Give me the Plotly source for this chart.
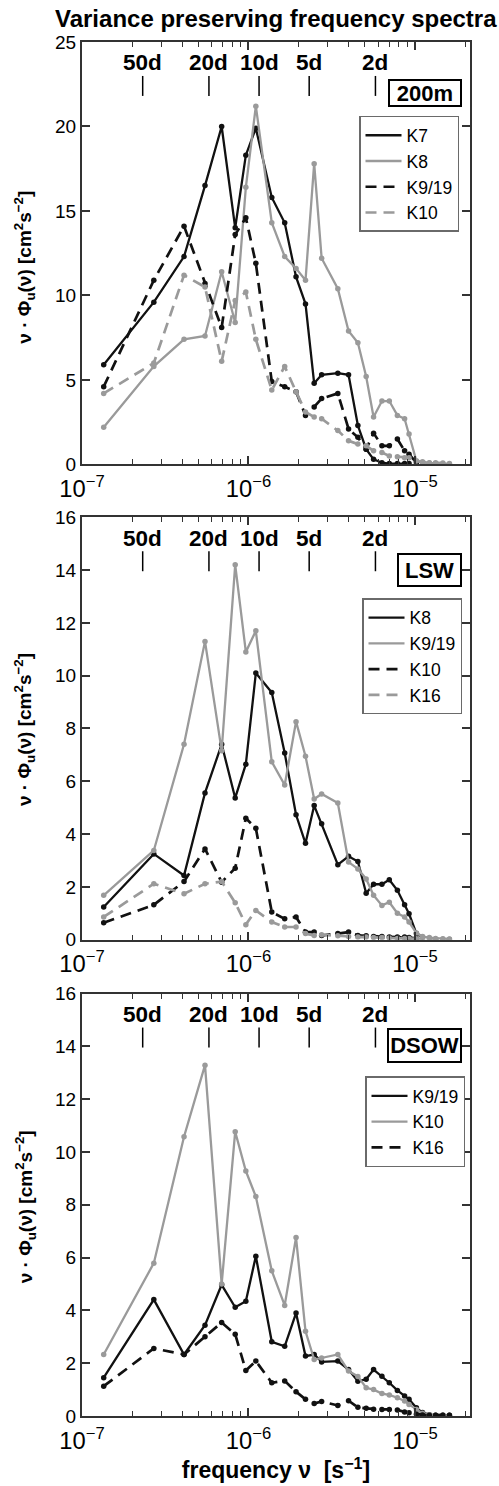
import numpy as np
import plotly.graph_objects as go

# ---------------- data ----------------
FREQ = [1.35e-7, 2.70e-7, 4.10e-7, 5.48e-7, 6.90e-7, 8.32e-7, 9.64e-7, 1.107e-6,
        1.38e-6, 1.65e-6, 1.93e-6, 2.20e-6, 2.48e-6, 2.75e-6, 3.44e-6, 3.99e-6,
        4.54e-6, 5.09e-6, 5.64e-6, 6.33e-6, 7.01e-6, 7.84e-6, 8.66e-6, 9.21e-6,
        1.02e-5, 1.11e-5, 1.22e-5, 1.33e-5, 1.47e-5, 1.61e-5]

PERIOD_DAYS = [50, 20, 10, 5, 2]
PERIOD_LABELS = ["50d", "20d", "10d", "5d", "2d"]

# 200 m
K7_200 = [5.9, 9.6, 12.3, 16.5, 20.0, 14.0, 18.3, 19.9, 15.8, 14.3, 11.1, 9.5, 4.8, 5.3,
          5.4, 5.3, 2.3, 0.9, 0.3, 0.1, 0.05, 0.05, 0.05, 0.05]
K8_200 = [2.2, 5.8, 7.4, 7.6, 11.4, 8.4, 16.4, 21.2, 14.3, 12.3, 11.6, 10.9, 17.8, 12.2,
          10.4, 7.9, 7.2, 5.2, 2.8, 3.75, 3.75, 2.9, 2.7, 1.8, 0.2, 0.1, 0.08, 0.05, 0.04, 0.03]
K9_200 = [4.6, 10.9, 14.1, 10.7, 8.1, 13.6, 14.6, 11.9, 4.9, 4.6, 4.3, 2.9, 3.4, 3.9,
          4.2, 2.1, 1.6, 0.9, 1.85, 1.1, 1.1, 1.5, 0.8, 0.6, 0.1]
K10_200 = [4.2, 6.0, 11.2, 10.5, 6.1, 9.7, 10.2, 7.4, 4.4, 5.8, 4.3, 3.1, 2.8, 2.7,
           2.0, 1.4, 1.2, 1.1, 0.8, 0.7, 0.5, 0.45, 0.4, 0.4, 0.2, 0.15, 0.1, 0.1, 0.08, 0.05]

# LSW
K8_LSW = [1.24, 3.25, 2.43, 5.56, 7.4, 5.37, 6.65, 10.1, 9.36, 7.07, 4.73, 3.65, 5.08, 4.39,
          2.84, 3.16, 2.96, 1.76, 2.1, 2.1, 2.27, 1.87, 1.32, 0.98, 0.23, 0.1]
K9_LSW = [1.68, 3.38, 7.4, 11.3, 7.16, 14.2, 10.9, 11.7, 6.74, 5.86, 8.26, 6.95, 5.33, 5.52,
          5.18, 2.94, 2.68, 2.3, 1.68, 1.3, 1.42, 1.0, 0.86, 0.67, 0.25, 0.12, 0.08, 0.05, 0.04, 0.03]
K10_LSW = [0.64, 1.32, 2.2, 3.44, 2.18, 2.71, 4.6, 4.22, 1.05, 0.79, 0.86, 0.29, 0.29, 0.16,
           0.23, 0.29, 0.16, 0.15, 0.12, 0.12, 0.1, 0.1, 0.1, 0.08, 0.05]
K16_LSW = [0.86, 2.12, 1.74, 2.12, 2.2, 1.4, 0.57, 1.11, 0.67, 0.48, 0.48, 0.23, 0.16, 0.19,
           0.15, 0.12, 0.1, 0.1, 0.08, 0.08, 0.06, 0.05, 0.05, 0.05, 0.04, 0.03, 0.03, 0.02, 0.02, 0.02]

# DSOW
K9_DSOW = [1.45, 4.41, 2.33, 3.44, 4.97, 4.12, 4.35, 6.05, 2.81, 2.64, 3.9, 2.27, 2.33, 2.05,
           2.08, 1.76, 1.32, 1.39, 1.76, 1.51, 1.26, 0.97, 0.76, 0.63, 0.31, 0.13, 0.05, 0.03, 0.03, 0.03]
K10_DSOW = [2.33, 5.79, 10.58, 13.29, 5.0, 10.77, 9.28, 8.31, 5.5, 4.19, 6.76, 3.21, 2.14, 2.2,
            2.33, 1.7, 1.5, 1.07, 1.0, 0.85, 0.8, 0.69, 0.57, 0.44, 0.25, 0.1, 0.05, 0.03, 0.03, 0.02]
K16_DSOW = [1.13, 2.56, 2.33, 3.0, 3.54, 3.1, 1.72, 2.08, 1.26, 1.33, 0.92, 0.63, 0.47, 0.55,
            0.4, 0.58, 0.33, 0.29, 0.26, 0.25, 0.25, 0.23, 0.15, 0.12, 0.07, 0.04, 0.03, 0.03, 0.03, 0.03]

BLACK = "#111111"
GRAY = "#9a9a9a"

PANELS = [
    dict(label="200m", ymax=25, dtick=5,
         series=[("K7", K7_200, BLACK, "solid"), ("K8", K8_200, GRAY, "solid"),
                 ("K9/19", K9_200, BLACK, "dash"), ("K10", K10_200, GRAY, "dash")]),
    dict(label="LSW", ymax=16, dtick=2,
         series=[("K8", K8_LSW, BLACK, "solid"), ("K9/19", K9_LSW, GRAY, "solid"),
                 ("K10", K10_LSW, BLACK, "dash"), ("K16", K16_LSW, GRAY, "dash")]),
    dict(label="DSOW", ymax=16, dtick=2,
         series=[("K9/19", K9_DSOW, BLACK, "solid"), ("K10", K10_DSOW, GRAY, "solid"),
                 ("K16", K16_DSOW, BLACK, "dash")]),
]

# ---------------- layout geometry ----------------
W, H = 499, 1486
ML, MR, MT, MB = 82, 29, 42, 68
PH = H - MT - MB
PW = W - ML - MR
TOPS = [42, 518, 995]
PANEL_H = 423
LEGEND_TL = [(359, 116), (362, 599), (365, 1078)]
BOX_CY = [93, 571, 1047]
BOX_WH = [(68, 22), (59, 28), (69, 29)]
YTITLE_CY = [268, 731, 1209]

FONT = "Liberation Sans, Arial, Helvetica, sans-serif"
DASH = "11px,7px"

fig = go.Figure()
layout = dict(
    width=W, height=H,
    margin=dict(l=ML, r=MR, t=MT, b=MB),
    paper_bgcolor="white", plot_bgcolor="white",
    font=dict(family=FONT, color="black", size=19),
    showlegend=True,
    title=dict(text="<b>Variance preserving frequency spectra</b>",
               x=55 / W, xanchor="left", xref="container",
               y=1 - 19 / H, yanchor="middle", yref="container",
               font=dict(size=24, family=FONT, color="black")),
)

annotations = []
shapes = []
xr = [-7, np.log10(2.14e-5)]

for i, p in enumerate(PANELS):
    n = "" if i == 0 else str(i + 1)
    top = TOPS[i]
    dom = [1 - (top + PANEL_H - MT) / PH, 1 - (top - MT) / PH]
    leg = "legend" if i == 0 else f"legend{i + 1}"
    xa, ya = f"x{n}", f"y{n}"

    for name, vals, col, dash in p["series"]:
        fx = FREQ[:len(vals)]
        isd = dash == "dash"
        fig.add_trace(go.Scatter(
            x=fx, y=vals, mode="lines", name=name, xaxis=xa, yaxis=ya,
            line=dict(color=col, width=2.7 if isd else 2.3, dash=DASH if isd else "solid"),
            legend=leg, showlegend=True, hoverinfo="skip"))
        fig.add_trace(go.Scatter(
            x=fx, y=vals, mode="markers", xaxis=xa, yaxis=ya, showlegend=False,
            marker=dict(color=col, size=5.5), hoverinfo="skip"))

    layout[f"xaxis{n}"] = dict(
        type="log", range=xr, anchor=ya, domain=[0, 1],
        showline=True, linecolor="#333", linewidth=2, mirror="allticks",
        ticks="inside", ticklen=8, tickwidth=1.5, tickcolor="#333",
        dtick=1, exponentformat="power", showexponent="all",
        tickfont=dict(size=19), showgrid=False, zeroline=False,
        ticklabelstandoff=3,
        minor=dict(ticks="inside", ticklen=5, tickwidth=1.2, tickcolor="#333",
                   dtick="D1", showgrid=False),
        title=dict(text="<b>frequency ν  [s<sup>−1</sup>]</b>", font=dict(size=23),
                   standoff=4) if i == 2 else None,
    )
    layout[f"yaxis{n}"] = dict(
        range=[0, p["ymax"]], dtick=p["dtick"], anchor=xa, domain=dom,
        showline=True, linecolor="#333", linewidth=2, mirror="allticks",
        ticks="inside", ticklen=8, tickwidth=1.5, tickcolor="#333",
        tickfont=dict(size=19), showgrid=False, zeroline=False,
    )

    lx, ly = LEGEND_TL[i]
    layout[leg] = dict(
        x=(lx - ML) / PW, y=1 - (ly - MT) / PH, xanchor="left", yanchor="top",
        xref="paper", yref="paper",
        bgcolor="white", bordercolor="#6a6a6a", borderwidth=1.5,
        font=dict(size=17.5, family=FONT, color="black"),
        tracegroupgap=0, itemwidth=36,
    )

    # y-axis title
    annotations.append(dict(
        text="<b>ν · Φ<sub>u</sub>(ν) [cm<sup>2</sup>s<sup>−2</sup>]</b>",
        textangle=-90, xref="paper", yref="paper",
        x=(25 - ML) / PW, y=1 - (YTITLE_CY[i] - MT) / PH,
        xanchor="center", yanchor="middle", showarrow=False,
        font=dict(size=19, family=FONT, color="black")))

    # period markers
    for d, lab in zip(PERIOD_DAYS, PERIOD_LABELS):
        f = 1.0 / (d * 86400.0)
        annotations.append(dict(
            text=f"<b>{lab}</b>", xref=xa, yref=f"{ya} domain",
            x=np.log10(f), y=1 - 21 / PANEL_H, xanchor="center", yanchor="middle",
            showarrow=False, font=dict(size=22.5, family=FONT, color="black")))
        shapes.append(dict(
            type="line", xref=xa, yref=f"{ya} domain",
            x0=f, x1=f, y0=1 - 54 / PANEL_H, y1=1 - 34 / PANEL_H,
            line=dict(color="black", width=1.5)))

    # water mass box
    bw, bh = BOX_WH[i]
    annotations.append(dict(
        text=f"<b>{p['label']}</b>", xref=f"{xa} domain", yref=f"{ya} domain",
        x=(462 - ML) / PW, y=1 - (BOX_CY[i] - top) / PANEL_H,
        xanchor="right", yanchor="middle", showarrow=False,
        width=bw, height=bh, align="center", valign="middle",
        bordercolor="black", borderwidth=2, borderpad=1, bgcolor="white",
        font=dict(size=22, family=FONT, color="black")))

layout["annotations"] = annotations
layout["shapes"] = shapes
fig.update_layout(**layout)
fig.write_html("out.html")
